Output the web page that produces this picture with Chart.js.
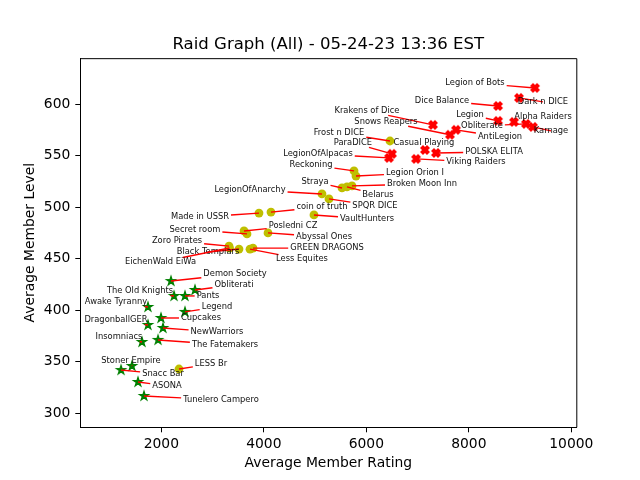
<!DOCTYPE html>
<html>
<head>
<meta charset="utf-8">
<title>Raid Graph</title>
<script src="https://cdn.jsdelivr.net/npm/chart.js@4"></script>
<style>
    body { margin: 0; background: #fff; }
    canvas { display: block; }
</style>
</head>
<body>
<canvas id="raidChart" width="640" height="480"></canvas>

<script>
    // tick labels
    var ratingTicks = [2000, 4000, 6000, 8000, 10000];
    var levelTicks = [300, 350, 400, 450, 500, 550, 600];

    // red clans
    var redNames = ['Legion of Bots', 'Dark n DICE', 'Dice Balance', 'Legion', 'Alpha Raiders', 'Obliterate', 'Karnage', 'Krakens of Dice', 'Snows Reapers', 'AntiLegion', 'POLSKA ELITA', 'Casual Playing', 'Viking Raiders', 'ParaDICE', 'LegionOfAlpacas'];
    var redRatings = [9292, 8979, 8570, 8570, 8882, 9116, 9252, 7301, 7633, 7750, 7360, 7145, 6970, 6501, 6443];
    var redLevels = [615.8, 606.1, 598.3, 583.8, 582.8, 580.9, 578, 579.9, 570.3, 575.1, 552.7, 555.6, 546.9, 551.8, 547.9];

    // yellow clans
    var yellowNames = ['Frost n DICE', 'Reckoning', 'Legion Orion I', 'Broken Moon Inn', 'Belarus', 'Straya', 'LegionOfAnarchy', 'SPQR DICE', 'coin of truth', 'Made in USSR', 'VaultHunters', 'Posledni CZ', 'Secret room', 'Abyssal Ones', 'Zoro Pirates', 'Black Templars', 'EichenWald EiWa', 'GREEN DRAGONS', 'Less Equites', 'LESS Br'];
    var yellowRatings = [6462, 5760, 5799, 5721, 5623, 5526, 5135, 5272, 4140, 3906, 4979, 3614, 3672, 4082, 3321, 3516, 3331, 3789, 3731, 2345];
    var yellowLevels = [564.3, 535.3, 530.3, 520.7, 519.7, 518.7, 512.9, 508.1, 495.3, 494.3, 492.5, 477, 474.1, 475.1, 462.3, 459.4, 460.4, 460.3, 459.3, 343];

    // green clans
    var greenNames = ['Demon Society', 'Obliterati', 'Pants', 'The Old Knights', 'Awake Tyranny', 'Legend', 'Cupcakes', 'DragonballGER', 'NewWarriors', 'Insomniacs', 'The Fatemakers', 'Stoner Empire', 'Snacc Bar', 'ASONA', 'Tunelero Campero'];
    var greenRatings = [2189, 2657, 2462, 2248, 1740, 2462, 1994, 1740, 2033, 1623, 1936, 1428, 1214, 1545, 1662];
    var greenLevels = [428.4, 419.7, 413.9, 413.9, 403.2, 398.4, 392.5, 385.7, 382.8, 369.2, 371.2, 345.9, 342, 330.4, 316.8];

    // where each label sits, in pixels from its point
    var labelOffsets = {
        'Legion of Bots': [-60, -5], 'Dark n DICE': [24, 4], 'Dice Balance': [-56, -5], 'Legion': [-28, -6],
        'Alpha Raiders': [29, -5], 'Obliterate': [-44, 2], 'Karnage': [18, 4], 'Krakens of Dice': [-66, -14],
        'Snows Reapers': [-64, -13], 'AntiLegion': [44, 7], 'POLSKA ELITA': [58, -1], 'Casual Playing': [-1, -7],
        'Viking Raiders': [60, 3], 'ParaDICE': [-39, -11], 'LegionOfAlpacas': [-71, -4],
        'Frost n DICE': [-51, -8], 'Reckoning': [-43, -6], 'Legion Orion I': [59, -3], 'Broken Moon Inn': [70, -2],
        'Belarus': [31, 8], 'Straya': [-27, -6], 'LegionOfAnarchy': [-72, -4], 'SPQR DICE': [46, 7],
        'coin of truth': [51, -5], 'Made in USSR': [-59, 4], 'VaultHunters': [53, 4], 'Posledni CZ': [49, -5],
        'Secret room': [-52, -4], 'Abyssal Ones': [56, 4], 'Zoro Pirates': [-52, -5], 'Black Templars': [-31, 3],
        'EichenWald EiWa': [-69, 14], 'GREEN DRAGONS': [74, 0], 'Less Equites': [52, 10], 'LESS Br': [32, -5],
        'Demon Society': [64, -7], 'Obliterati': [39, -5], 'Pants': [23, 0], 'The Old Knights': [-34, -5],
        'Awake Tyranny': [-32, -5], 'Legend': [32, -5], 'Cupcakes': [40, 0], 'DragonballGER': [-32, -5],
        'NewWarriors': [54, 4], 'Insomniacs': [-23, -5], 'The Fatemakers': [67, 5], 'Stoner Empire': [-1, -5],
        'Snacc Bar': [42, 4], 'ASONA': [29, 4], 'Tunelero Campero': [77, 4]
    };

    var FONT = '"DejaVu Sans"';

    // filled markers, Chart.js only has line versions of these
    function markerCanvas(color, vertices) {
        var size = 18;
        var c = document.createElement('canvas');
        c.width = size;
        c.height = size;
        var g = c.getContext('2d');
        g.translate(size / 2, size / 2);
        g.beginPath();
        vertices.forEach(function (v, i) {
            if (i === 0) g.moveTo(v[0], v[1]);
            else g.lineTo(v[0], v[1]);
        });
        g.closePath();
        g.fillStyle = color;
        g.strokeStyle = color;
        g.lineWidth = 1.39;
        g.lineJoin = 'miter';
        g.miterLimit = 10;
        g.fill();
        g.stroke();
        return c;
    }

    function starVertices(radius) {
        var out = [];
        for (var i = 0; i < 10; i++) {
            var r = i % 2 === 0 ? radius : radius * 0.381966;
            var a = -Math.PI / 2 + i * Math.PI / 5;
            out.push([r * Math.cos(a), r * Math.sin(a)]);
        }
        return out;
    }

    function crossVertices(scale) {
        var unit = [[-1, -2], [0, -1], [1, -2], [2, -1], [1, 0], [2, 1], [1, 2], [0, 1], [-1, 2], [-2, 1], [-1, 0], [-2, -1]];
        return unit.map(function (v) { return [v[0] * scale / 4, v[1] * scale / 4]; });
    }

    function toPoints(ratings, levels) {
        return ratings.map(function (r, i) { return { x: r, y: levels[i] }; });
    }

    // line from the label centre to the point, cut off at the label's box
    function leaderStart(cx, cy, halfW, halfH, px, py) {
        var dx = px - cx, dy = py - cy;
        if (Math.abs(dx) <= halfW && Math.abs(dy) <= halfH) return [cx, cy];
        var t = 1;
        if (Math.abs(dx) > halfW) t = Math.min(t, halfW / Math.abs(dx));
        if (Math.abs(dy) > halfH) t = Math.min(t, halfH / Math.abs(dy));
        return [cx + dx * t, cy + dy * t];
    }

    var clanLabels = {
        id: 'clanLabels',
        afterDatasetsDraw: function (chart) {
            var ctx = chart.ctx;
            var xs = chart.scales.x, ys = chart.scales.y;
            var area = chart.chartArea;

            // top and right spines
            ctx.save();
            ctx.strokeStyle = '#000';
            ctx.lineWidth = 1;
            ctx.beginPath();
            ctx.moveTo(area.left, area.top + 0.5);
            ctx.lineTo(area.right + 0.5, area.top + 0.5);
            ctx.lineTo(area.right + 0.5, area.bottom);
            ctx.stroke();
            ctx.restore();

            ctx.save();
            ctx.font = '8.33px ' + FONT;
            ctx.textAlign = 'center';
            ctx.textBaseline = 'middle';
            chart.data.datasets.forEach(function (ds) {
                ds.names.forEach(function (name, i) {
                    var px = xs.getPixelForValue(ds.data[i].x);
                    var py = ys.getPixelForValue(ds.data[i].y);
                    var cx = px + labelOffsets[name][0];
                    var cy = py + labelOffsets[name][1];
                    var halfW = ctx.measureText(name).width / 2 + 2;
                    var start = leaderStart(cx, cy, halfW, 4.5, px, py);
                    ctx.strokeStyle = '#ff0000';
                    ctx.lineWidth = 1.4;
                    ctx.beginPath();
                    ctx.moveTo(start[0], start[1]);
                    ctx.lineTo(px, py);
                    ctx.stroke();
                    ctx.fillStyle = '#111';
                    ctx.fillText(name, cx, cy);
                });
            });
            ctx.restore();
        }
    };

    var ctx = document.getElementById('raidChart').getContext('2d');
    ctx.textRendering = 'geometricPrecision';

    new Chart(ctx, {
        type: 'scatter',
        plugins: [clanLabels],
        data: {
            datasets: [
                { names: yellowNames, data: toPoints(yellowRatings, yellowLevels), pointStyle: 'circle', pointRadius: 4.4, pointBorderWidth: 0, backgroundColor: '#bfbf00', borderColor: '#bfbf00' },
                { names: redNames, data: toPoints(redRatings, redLevels), pointStyle: markerCanvas('#ff0000', crossVertices(8)), pointRadius: 5 },
                { names: greenNames, data: toPoints(greenRatings, greenLevels), pointStyle: markerCanvas('#008000', starVertices(4.5)), pointRadius: 5 }
            ]
        },
        options: {
            responsive: false,
            animation: false,
            layout: { padding: { left: 0, right: 63.7, top: 0, bottom: 0 } },
            plugins: {
                legend: { display: false },
                tooltip: { enabled: false },
                title: {
                    display: true,
                    fullSize: false,
                    text: 'Raid Graph (All) - 05-24-23 13:36 EST',
                    color: '#000',
                    font: { family: FONT, size: 16.55, weight: 'normal' },
                    padding: { top: 35, bottom: 3.3 }
                }
            },
            scales: {
                x: {
                    type: 'linear',
                    min: 419.5,
                    max: 10097.6,
                    afterFit: function (scale) { scale.height = 52.7; },
                    afterBuildTicks: function (scale) {
                        scale.ticks = ratingTicks.map(function (v) { return { value: v }; });
                    },
                    border: { color: '#000', width: 1 },
                    grid: { drawOnChartArea: false, color: '#000', tickLength: 5, tickWidth: 1 },
                    ticks: {
                        color: '#000',
                        padding: 4,
                        maxRotation: 0,
                        autoSkip: false,
                        font: { family: FONT, size: 13.89 },
                        callback: function (v) { return String(v); }
                    },
                    title: {
                        display: true,
                        text: 'Average Member Rating',
                        color: '#000',
                        font: { family: FONT, size: 13.89 },
                        padding: { top: 0, bottom: 8.7 }
                    }
                },
                y: {
                    type: 'linear',
                    min: 286.4,
                    max: 644.7,
                    afterFit: function (scale) { scale.width = 80.3; },
                    afterBuildTicks: function (scale) {
                        scale.ticks = levelTicks.map(function (v) { return { value: v }; });
                    },
                    border: { color: '#000', width: 1 },
                    grid: { drawOnChartArea: false, color: '#000', tickLength: 5, tickWidth: 1 },
                    ticks: {
                        color: '#000',
                        padding: 5,
                        autoSkip: false,
                        font: { family: FONT, size: 13.89 },
                        callback: function (v) { return String(v); }
                    },
                    title: {
                        display: true,
                        text: 'Average Member Level',
                        color: '#000',
                        font: { family: FONT, size: 13.89 },
                        padding: { top: 21.7, bottom: 0 }
                    }
                }
            }
        }
    });
</script>
</body>
</html>
